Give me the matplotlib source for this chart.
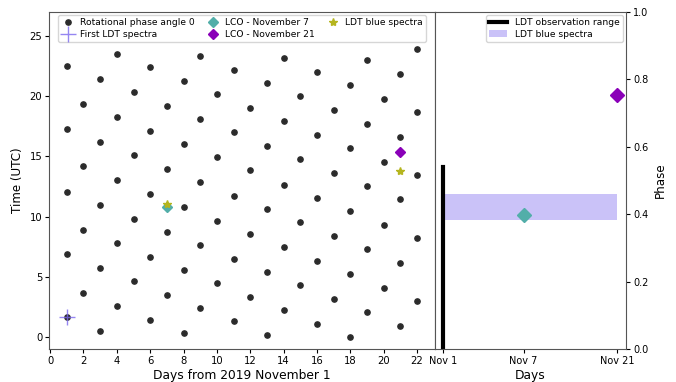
import numpy as np
import matplotlib
matplotlib.use('Agg')
import matplotlib.pyplot as plt

# times (UTC hours) of rotational phase angle 0, per day from 2019 Nov 1
phase0 = {
    1: [1.66, 6.91, 12.07, 17.29, 22.51],
    2: [3.70, 8.90, 14.17, 19.36],
    3: [0.52, 5.77, 10.94, 16.19, 21.41],
    4: [2.60, 7.79, 13.07, 18.26, 23.45],
    5: [4.64, 9.83, 15.11, 20.30],
    6: [1.46, 6.69, 11.91, 17.13, 22.38],
    7: [3.51, 8.76, 13.98, 19.20],
    8: [0.36, 5.58, 10.77, 16.02, 21.24],
    9: [2.43, 7.65, 12.84, 18.09, 23.29],
    10: [4.50, 9.67, 14.92, 20.14],
    11: [1.33, 6.52, 11.71, 16.99, 22.18],
    12: [3.34, 8.56, 13.84, 19.01],
    13: [0.22, 5.41, 10.61, 15.83, 21.08],
    14: [2.24, 7.46, 12.66, 17.90, 23.12],
    15: [4.31, 9.53, 14.75, 19.97],
    16: [1.13, 6.35, 11.55, 16.80, 22.02],
    17: [3.20, 8.37, 13.65, 18.87],
    18: [0.06, 5.22, 10.44, 15.69, 20.88],
    19: [2.10, 7.29, 12.54, 17.71, 22.96],
    20: [4.12, 9.34, 14.56, 19.78],
    21: [0.94, 6.19, 11.45, 16.60, 21.85],
    22: [3.01, 8.23, 13.45, 18.67, 23.90],
}
first_ldt = (1, 1.66)
lco_nov7 = (7, 10.77)
lco_nov21 = (21, 15.36)
ldt_blue_days = [7, 21]
ldt_blue_times = [11.02, 13.76]

# right panel (phase)
phase_days = [1, 7, 14]
phase_labels = ['Nov 1', 'Nov 7', 'Nov 21']
ldt_range = (0.0, 0.541)
ldt_blue_phase = (0.383, 0.46)
lco_phase7 = 0.398
lco_phase21 = 0.752

c_dot = '#2b2b2b'
c_plus = 'mediumslateblue'
c_lco7 = '#52aea9'
c_lco21 = '#8a00b8'
c_star = '#b5b51e'

plt.rcParams['font.family'] = 'DejaVu Sans'
fig = plt.figure(figsize=(6.76, 3.82), dpi=100)
ax1 = fig.add_axes([0.0729, 0.0856, 0.570, 0.884])
ax2 = fig.add_axes([0.6430, 0.0856, 0.2830, 0.884])

xs = [d for d in phase0 for t in phase0[d]]
ys = [t for d in phase0 for t in phase0[d]]
ax1.plot(xs, ys, 'o', color=c_dot, markersize=3.8, label='Rotational phase angle 0')
ax1.plot(*first_ldt, '+', color=c_plus, markersize=11, mew=1.0, alpha=0.8,
         label='First LDT spectra')
ax1.plot(*lco_nov7, 'D', color=c_lco7, markersize=5, label='LCO - November 7')
ax1.plot(*lco_nov21, 'D', color=c_lco21, markersize=5, label='LCO - November 21')
ax1.plot(ldt_blue_days, ldt_blue_times, '*', color=c_star, markersize=6,
         label='LDT blue spectra', linestyle='none')

ax1.set_ylim(-1, 27)
ax1.set_xticks(range(0, 23, 2))
ax1.set_yticks(range(0, 26, 5))
ax1.set_xlabel('Days from 2019 November 1', fontsize=8.8, labelpad=2)
ax1.set_ylabel('Time (UTC)', fontsize=8.6, labelpad=4)
ax1.tick_params(labelsize=7.2, length=3, pad=2)
ax1.legend(loc='upper center', ncol=3, fontsize=6.6, handletextpad=0.6,
           columnspacing=1.2, borderpad=0.35, labelspacing=0.3,
           borderaxespad=0.35, handlelength=1.5)

ax2.fill_between([phase_days[0], phase_days[-1]], ldt_blue_phase[0], ldt_blue_phase[1],
                 color='mediumslateblue', alpha=0.4, linewidth=0, label='LDT blue spectra')
ax2.plot([phase_days[0]] * 2, ldt_range, color='k', linewidth=3,
         label='LDT observation range')
ax2.plot(phase_days[1], lco_phase7, 'D', color=c_lco7, markersize=7)
ax2.plot(phase_days[2], lco_phase21, 'D', color=c_lco21, markersize=7)
ax2.set_ylim(0, 1)
ax2.set_xticks(phase_days)
ax2.set_xticklabels(phase_labels)
ax2.yaxis.tick_right()
ax2.yaxis.set_label_position('right')
ax2.set_xlabel('Days', fontsize=8.8, labelpad=2)
ax2.set_ylabel('Phase', fontsize=8.6, labelpad=4)
ax2.tick_params(labelsize=7.0, length=3, pad=2)
h, l = ax2.get_legend_handles_labels()
ax2.legend(h[::-1], l[::-1], loc='upper right', fontsize=6.6, borderpad=0.35,
           labelspacing=0.3, borderaxespad=0.35, handlelength=2.0)

for ax in (ax1, ax2):
    for s in ax.spines.values():
        s.set_color('#555555')

fig.savefig('out.png', dpi=100)
